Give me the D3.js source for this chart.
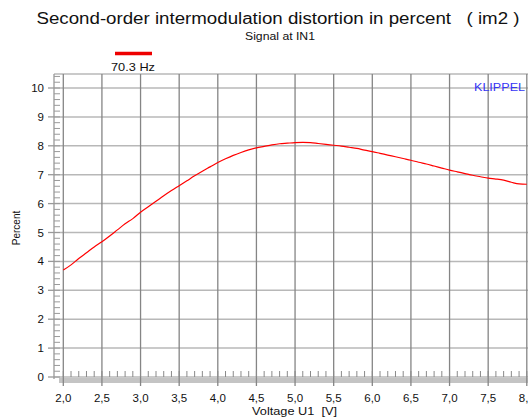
<!DOCTYPE html>
<html>
<head>
<meta charset="utf-8">
<script src="https://cdn.jsdelivr.net/npm/d3@7"></script>
<style>
  body { margin: 0; background: #fff; }
  svg { display: block; font-family: "Liberation Sans", Arial, sans-serif; }
</style>
</head>
<body>
<script>
// measured curve, 70.3 Hz, 0.1 V steps
var voltage = [2.0, 2.1, 2.2, 2.3, 2.4, 2.5, 2.6, 2.7, 2.8, 2.9,
               3.0, 3.1, 3.2, 3.3, 3.4, 3.5, 3.6, 3.7, 3.8, 3.9,
               4.0, 4.1, 4.2, 4.3, 4.4, 4.5, 4.6, 4.7, 4.8, 4.9,
               5.0, 5.1, 5.2, 5.3, 5.4, 5.5, 5.6, 5.7, 5.8, 5.9,
               6.0, 6.1, 6.2, 6.3, 6.4, 6.5, 6.6, 6.7, 6.8, 6.9,
               7.0, 7.1, 7.2, 7.3, 7.4, 7.5, 7.6, 7.7, 7.8, 7.9, 8.0];
var im2 = [3.70, 3.88, 4.10, 4.30, 4.50, 4.68, 4.88, 5.09, 5.30, 5.48,
           5.70, 5.89, 6.08, 6.27, 6.45, 6.62, 6.79, 6.96, 7.12, 7.27,
           7.42, 7.55, 7.67, 7.77, 7.86, 7.93, 7.98, 8.03, 8.07, 8.09,
           8.11, 8.12, 8.11, 8.08, 8.05, 8.02, 7.99, 7.95, 7.91, 7.85,
           7.80, 7.74, 7.68, 7.62, 7.56, 7.50, 7.43, 7.37, 7.30, 7.23,
           7.16, 7.10, 7.04, 6.98, 6.93, 6.88, 6.85, 6.81, 6.74, 6.68, 6.67];
var xTicks = [2.0, 2.5, 3.0, 3.5, 4.0, 4.5, 5.0, 5.5, 6.0, 6.5, 7.0, 7.5, 8.0];
var yTicks = [0, 1, 2, 3, 4, 5, 6, 7, 8, 9, 10];
var seriesName = "70.3 Hz";

var W = 528, H = 419;
var frame = {left: 54, top: 74, bottom: 377};

var x = d3.scaleLinear().domain([2, 8]).range([63.3, 526.8]);
var y = d3.scaleLinear().domain([0, 10]).range([377, 88]);

var svg = d3.select("body").append("svg")
    .attr("width", W)
    .attr("height", H);

// title block (the original renders a wide face, so stretch to its width)
svg.append("text")
    .attr("x", 36.5).attr("y", 23.5)
    .attr("font-size", 16)
    .attr("fill", "#111")
    .attr("xml:space", "preserve")
    .attr("textLength", 483)
    .attr("lengthAdjust", "spacingAndGlyphs")
    .text("Second-order intermodulation distortion in percent   ( im2 )");

svg.append("text")
    .attr("x", 245).attr("y", 40)
    .attr("font-size", 11)
    .attr("fill", "#111")
    .attr("textLength", 70)
    .attr("lengthAdjust", "spacingAndGlyphs")
    .text("Signal at IN1");

// legend
svg.append("line")
    .attr("x1", 115).attr("x2", 152)
    .attr("y1", 53.5).attr("y2", 53.5)
    .attr("stroke", "#ee0000")
    .attr("stroke-width", 3.5);
svg.append("text")
    .attr("x", 111).attr("y", 71)
    .attr("font-size", 11)
    .attr("fill", "#111")
    .attr("textLength", 44)
    .attr("lengthAdjust", "spacingAndGlyphs")
    .text(seriesName);

// horizontal grid (lighter)
svg.append("g")
  .selectAll("line")
  .data(yTicks)
  .join("line")
    .attr("x1", frame.left).attr("x2", W)
    .attr("y1", d => y(d)).attr("y2", d => y(d))
    .attr("stroke", "#b8b8b8")
    .attr("stroke-width", 1.5);

// top frame
svg.append("line")
    .attr("x1", frame.left).attr("x2", W)
    .attr("y1", frame.top).attr("y2", frame.top)
    .attr("stroke", "#b8b8b8")
    .attr("stroke-width", 1.5);

// bottom grey band
svg.append("rect")
    .attr("x", 59).attr("y", 378)
    .attr("width", W - 59).attr("height", 5)
    .attr("fill", "#c4c4c4");

// vertical grid (darker)
svg.append("g")
  .selectAll("line")
  .data(xTicks)
  .join("line")
    .attr("x1", d => x(d)).attr("x2", d => x(d))
    .attr("y1", frame.top).attr("y2", 386)
    .attr("stroke", "#858585")
    .attr("stroke-width", 1.3);

// left frame with minor ticks
svg.append("line")
    .attr("x1", frame.left).attr("x2", frame.left)
    .attr("y1", frame.top).attr("y2", 379)
    .attr("stroke", "#999")
    .attr("stroke-width", 1.3);

var yMinor = d3.range(0, 10.41, 0.2);
svg.append("g")
  .selectAll("line")
  .data(yMinor)
  .join("line")
    .attr("x1", frame.left).attr("x2", 60)
    .attr("y1", d => y(d)).attr("y2", d => y(d))
    .attr("stroke", "#9a9a9a")
    .attr("stroke-width", 1);

var xMinor = d3.range(20, 81).map(d => d / 10);
svg.append("g")
  .selectAll("line")
  .data(xMinor)
  .join("line")
    .attr("x1", d => x(d)).attr("x2", d => x(d))
    .attr("y1", 371).attr("y2", 377)
    .attr("stroke", "#8a8a8a")
    .attr("stroke-width", 1);

// y tick labels + small major ticks
svg.append("g")
  .selectAll("line")
  .data(yTicks)
  .join("line")
    .attr("x1", 48).attr("x2", frame.left)
    .attr("y1", d => y(d)).attr("y2", d => y(d))
    .attr("stroke", "#999")
    .attr("stroke-width", 1.3);

svg.append("g")
  .selectAll("text")
  .data(yTicks)
  .join("text")
    .attr("x", 44)
    .attr("y", d => y(d) + 4)
    .attr("text-anchor", "end")
    .attr("font-size", 11.5)
    .attr("fill", "#111")
    .text(d => d);

// x tick labels (comma decimal)
var fmt = d3.format(".1f");
svg.append("g")
  .selectAll("text")
  .data(xTicks)
  .join("text")
    .attr("x", d => x(d))
    .attr("y", 402)
    .attr("text-anchor", "middle")
    .attr("font-size", 11.5)
    .attr("fill", "#111")
    .text(d => fmt(d).replace(".", ","));

// axis titles
svg.append("text")
    .attr("x", 252).attr("y", 415)
    .attr("font-size", 11)
    .attr("fill", "#111")
    .attr("xml:space", "preserve")
    .attr("textLength", 85)
    .attr("lengthAdjust", "spacingAndGlyphs")
    .text("Voltage U1  [V]");

svg.append("text")
    .attr("transform", "translate(19.5,228) rotate(-90)")
    .attr("text-anchor", "middle")
    .attr("font-size", 10)
    .attr("fill", "#111")
    .text("Percent");

// watermark
svg.append("text")
    .attr("x", 474).attr("y", 90.7)
    .attr("font-size", 11.5)
    .attr("fill", "#3535f5")
    .attr("textLength", 51)
    .attr("lengthAdjust", "spacingAndGlyphs")
    .text("KLIPPEL");

// curve
var line = d3.line()
    .x((d, i) => x(voltage[i]))
    .y(d => y(d))
    .curve(d3.curveMonotoneX);

svg.append("path")
    .datum(im2)
    .attr("d", line)
    .attr("fill", "none")
    .attr("stroke", "#ff0000")
    .attr("stroke-width", 1.2);
</script>
</body>
</html>
